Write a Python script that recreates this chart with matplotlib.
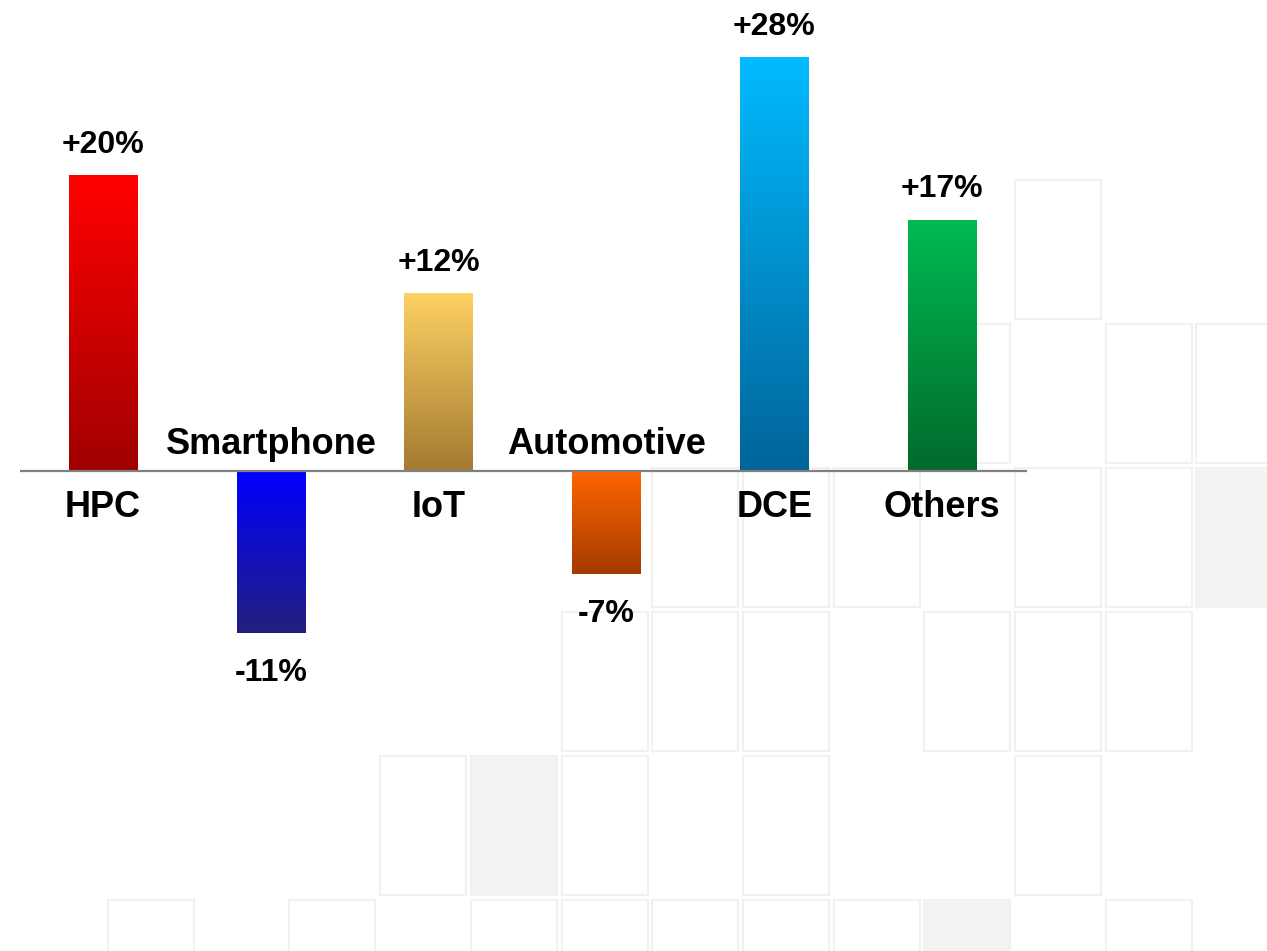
import numpy as np
import matplotlib.pyplot as plt
from matplotlib.colors import LinearSegmentedColormap
from matplotlib.patches import Rectangle

plt.rcParams['font.family'] = ['Liberation Sans', 'DejaVu Sans']

# Datos
categorias = ['HPC', 'Smartphone', 'IoT', 'Automotive', 'DCE', 'Others']
crecimiento = [20, -11, 12, -7, 28, 17]
etiquetas = ['+20%', '-11%', '+12%', '-7%', '+28%', '+17%']
color_arriba = ['#FF0000', '#0000FF', '#FDD163', '#FF6600', '#00BBFF', '#00BA52']
color_abajo = ['#A00000', '#231F7E', '#A47A32', '#A33A00', '#00649A', '#006A2B']

# Cuadros decorativos del fondo (columna, fila, sombreado)
cuadros = [(10, 0, 0), (9, 1, 0), (11, 1, 0), (12, 1, 0),
           (6, 2, 0), (7, 2, 0), (8, 2, 0), (10, 2, 0), (11, 2, 0), (12, 2, 1),
           (5, 3, 0), (6, 3, 0), (7, 3, 0), (9, 3, 0), (10, 3, 0), (11, 3, 0),
           (3, 4, 0), (4, 4, 1), (5, 4, 0), (7, 4, 0), (10, 4, 0),
           (0, 5, 0), (2, 5, 0), (4, 5, 0), (5, 5, 0), (6, 5, 0), (7, 5, 0),
           (8, 5, 0), (9, 5, 1), (11, 5, 0)]

W, H = 1267, 951
fig = plt.figure(figsize=(W / 100, H / 100), dpi=100)

# Fondo
bg = fig.add_axes([0, 0, 1, 1], zorder=0)
bg.set_xlim(0, W)
bg.set_ylim(H, 0)
bg.axis('off')
for c, r, s in cuadros:
    bg.add_patch(Rectangle((108 + c * 90.7, 180 + r * 144), 86, 139,
                           facecolor='#F5F3F2' if s else 'white',
                           edgecolor='#F3F0F0', linewidth=1.5))

# Gráfico
ax = fig.add_axes([20 / W, 0, 1007 / W, 1], zorder=1)
ax.patch.set_alpha(0)
x = np.arange(len(categorias))
barras = ax.bar(x, crecimiento, width=0.41, color='none', edgecolor='none')
grad = np.linspace(0, 1, 256).reshape(-1, 1)
for b, ca, cb in zip(barras, color_arriba, color_abajo):
    cmap = LinearSegmentedColormap.from_list('g', [cb, ca])
    x0, y0, w, h = b.get_x(), b.get_y(), b.get_width(), b.get_height()
    ax.imshow(grad, cmap=cmap, aspect='auto', origin='lower',
              extent=[x0, x0 + w, min(y0, y0 + h), max(y0, y0 + h)], zorder=2)
ax.axhline(0, color='#808080', linewidth=1.6, zorder=3)
ax.set_xlim(-0.495, 5.505)
ax.set_ylim(-32.54, 31.93)
ax.axis('off')

for xi, v, et, cat in zip(x, crecimiento, etiquetas, categorias):
    if v > 0:
        ax.annotate(et, (xi, v), xytext=(0, 16.5), textcoords='offset points',
                    ha='center', va='baseline', fontsize=23, fontweight='bold')
        ax.annotate(cat, (xi, 0), xytext=(0, -33), textcoords='offset points',
                    ha='center', va='baseline', fontsize=26, fontweight='bold')
    else:
        ax.annotate(et, (xi, v), xytext=(0, -34.5), textcoords='offset points',
                    ha='center', va='baseline', fontsize=23, fontweight='bold')
        ax.annotate(cat, (xi, 0), xytext=(0, 12), textcoords='offset points',
                    ha='center', va='baseline', fontsize=26, fontweight='bold')

fig.savefig('out.png', dpi=100)
